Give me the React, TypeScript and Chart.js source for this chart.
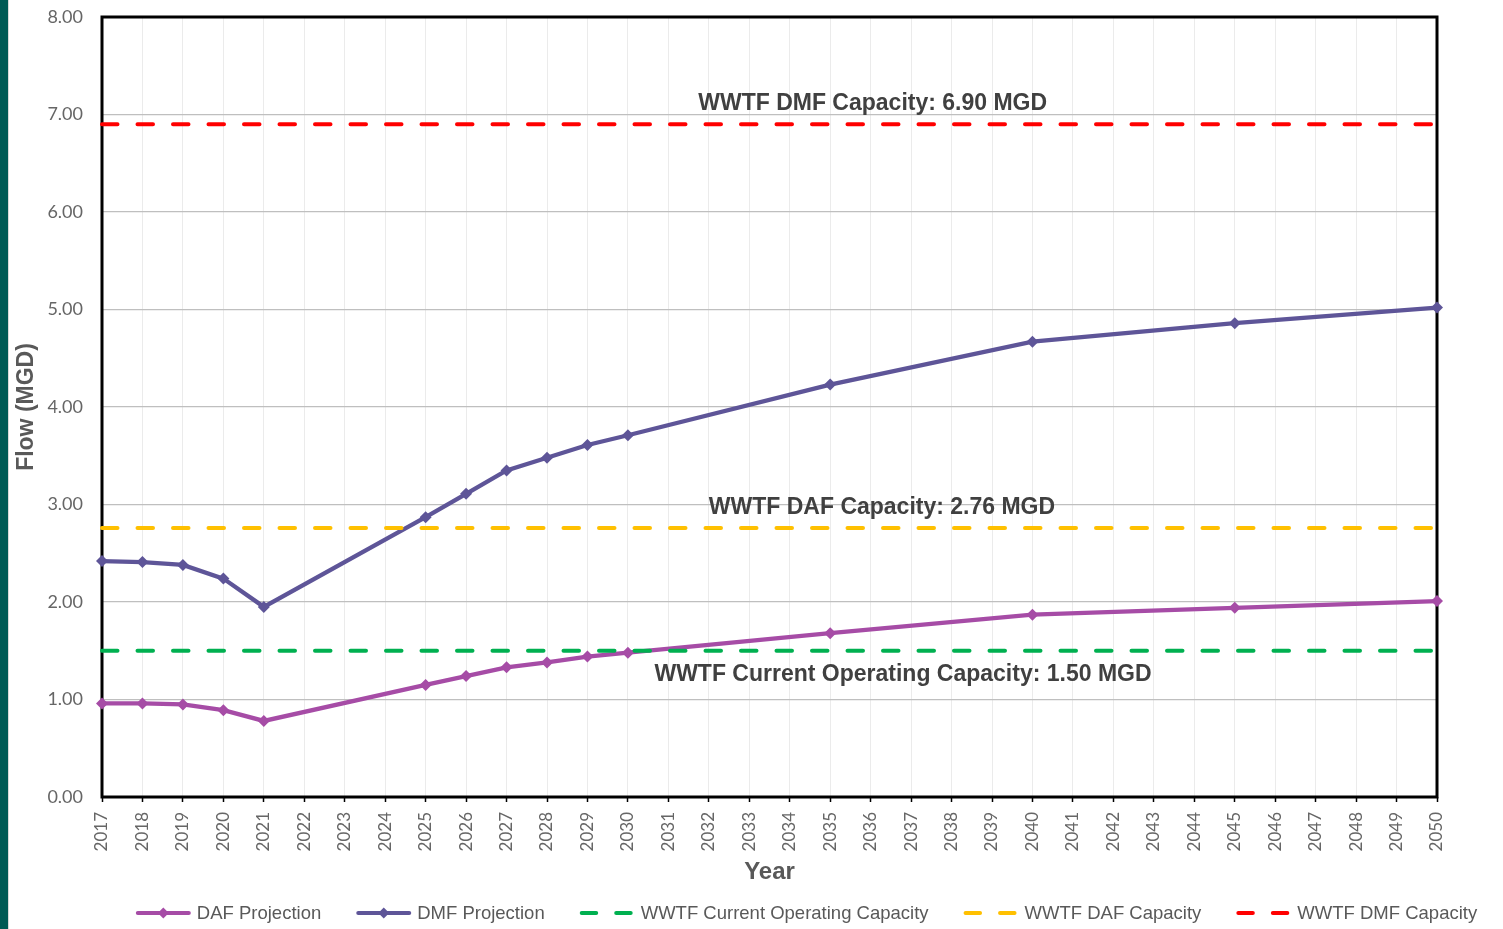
import { useEffect, useRef } from "react";
import { Chart, registerables } from "chart.js";

Chart.register(...registerables);

const YEARS = [
  "2017", "2018", "2019", "2020", "2021", "2022", "2023", "2024", "2025", "2026",
  "2027", "2028", "2029", "2030", "2031", "2032", "2033", "2034", "2035", "2036",
  "2037", "2038", "2039", "2040", "2041", "2042", "2043", "2044", "2045", "2046",
  "2047", "2048", "2049", "2050",
];

const DAF_PROJECTION = [
  0.96, 0.96, 0.95, 0.89, 0.78, null, null, null, 1.15, 1.24,
  1.33, 1.38, 1.44, 1.48, null, null, null, null, 1.68, null,
  null, null, null, 1.87, null, null, null, null, 1.94, null,
  null, null, null, 2.01,
];

const DMF_PROJECTION = [
  2.42, 2.41, 2.38, 2.24, 1.95, null, null, null, 2.87, 3.11,
  3.35, 3.48, 3.61, 3.71, null, null, null, null, 4.23, null,
  null, null, null, 4.67, null, null, null, null, 4.86, null,
  null, null, null, 5.02,
];

const CURRENT_CAPACITY = 1.5;
const DAF_CAPACITY = 2.76;
const DMF_CAPACITY = 6.9;

const Y_TICKS = [0, 1, 2, 3, 4, 5, 6, 7, 8];

const ANNOTATIONS = [
  { text: "WWTF DMF Capacity: 6.90 MGD", value: DMF_CAPACITY, xPos: 19.05, dy: -21 },
  { text: "WWTF DAF Capacity: 2.76 MGD", value: DAF_CAPACITY, xPos: 19.28, dy: -20 },
  { text: "WWTF Current Operating Capacity: 1.50 MGD", value: CURRENT_CAPACITY, xPos: 19.8, dy: 24 },
];

const COLORS = {
  daf: "#A64CA6",
  dmf: "#5E5598",
  current: "#00B050",
  dafCap: "#FFC000",
  dmfCap: "#FF0000",
};

const flat = (v: number) => [
  { x: YEARS[0], y: v },
  { x: YEARS[YEARS.length - 1], y: v },
];

const zeroPad = (s: any) => {
  s.paddingTop = 0;
  s.paddingBottom = 0;
  s.paddingLeft = 0;
  s.paddingRight = 0;
};

const frameAndLabels = {
  id: "frameAndLabels",
  beforeDatasetsDraw(chart: any) {
    const { ctx, chartArea: a } = chart;
    ctx.save();
    ctx.strokeStyle = "#000";
    ctx.lineWidth = 3;
    ctx.strokeRect(a.left, a.top, a.right - a.left, a.bottom - a.top);
    ctx.restore();
  },
  afterDatasetsDraw(chart: any) {
    const { ctx } = chart;
    const xs = chart.scales.x;
    const ys = chart.scales.y;
    ctx.save();
    ctx.font = 'bold 23px "Liberation Sans", Arial, sans-serif';
    ctx.fillStyle = "#404040";
    ctx.textAlign = "center";
    ctx.textBaseline = "middle";
    for (const an of ANNOTATIONS) {
      ctx.fillText(an.text, xs.getPixelForValue(an.xPos), ys.getPixelForValue(an.value) + an.dy);
    }
    ctx.restore();
  },
  afterDraw(chart: any) {
    const { ctx } = chart;
    ctx.save();
    ctx.font = '18.5px "Liberation Sans", Arial, sans-serif';
    const sampleW = 55;
    const textGap = 6;
    const itemGap = 35;
    const items = chart.data.datasets.map((ds: any) => ({
      label: ds.label,
      color: ds.borderColor,
      dashed: !!ds.borderDash,
      w: ctx.measureText(ds.label).width,
    }));
    let total = 0;
    items.forEach((it: any) => (total += sampleW + textGap + it.w + itemGap));
    total -= itemGap;
    let x = chart.width / 2 + 55 - total / 2;
    const y = 913;
    for (const it of items) {
      ctx.strokeStyle = it.color;
      ctx.fillStyle = it.color;
      ctx.lineWidth = 4;
      if (it.dashed) {
        ctx.lineCap = "round";
        ctx.setLineDash([14.5, 20]);
        ctx.beginPath();
        ctx.moveTo(x + 2, y);
        ctx.lineTo(x + sampleW - 4, y);
        ctx.stroke();
        ctx.setLineDash([]);
      } else {
        ctx.lineCap = "round";
        ctx.beginPath();
        ctx.moveTo(x + 2, y);
        ctx.lineTo(x + sampleW - 2, y);
        ctx.stroke();
        const cx = x + sampleW / 2;
        ctx.beginPath();
        ctx.moveTo(cx, y - 5.5);
        ctx.lineTo(cx + 5.5, y);
        ctx.lineTo(cx, y + 5.5);
        ctx.lineTo(cx - 5.5, y);
        ctx.closePath();
        ctx.fill();
      }
      ctx.fillStyle = "#595959";
      ctx.textAlign = "left";
      ctx.textBaseline = "middle";
      ctx.fillText(it.label, x + sampleW + textGap, y + 1);
      x += sampleW + textGap + it.w + itemGap;
    }
    ctx.restore();
  },
};

export default function App() {
  const ref = useRef<HTMLCanvasElement | null>(null);

  useEffect(() => {
    if (!ref.current) return;
    const projection = (label: string, data: (number | null)[], color: string) => ({
      label,
      data,
      borderColor: color,
      backgroundColor: color,
      borderWidth: 4.3,
      pointStyle: "rectRot",
      pointRadius: 6,
      pointBorderWidth: 0,
      pointBackgroundColor: color,
      spanGaps: true,
      tension: 0,
      order: 2,
    });
    const capacity = (label: string, v: number, color: string) => ({
      label,
      data: flat(v),
      borderColor: color,
      backgroundColor: color,
      borderWidth: 4,
      borderDash: [15.5, 20],
      borderCapStyle: "round",
      pointRadius: 0,
      order: 1,
    });
    const chart = new Chart(ref.current, {
      type: "line",
      data: {
        labels: YEARS,
        datasets: [
          projection("DAF Projection", DAF_PROJECTION, COLORS.daf),
          projection("DMF Projection", DMF_PROJECTION, COLORS.dmf),
          capacity("WWTF Current Operating Capacity", CURRENT_CAPACITY, COLORS.current),
          capacity("WWTF DAF Capacity", DAF_CAPACITY, COLORS.dafCap),
          capacity("WWTF DMF Capacity", DMF_CAPACITY, COLORS.dmfCap),
        ] as any,
      },
      options: {
        responsive: false,
        animation: false,
        layout: { padding: { left: 0, right: 66, top: 17, bottom: 35 } },
        plugins: {
          legend: { display: false },
          tooltip: { enabled: false },
        },
        scales: {
          x: {
            type: "category",
            offset: false,
            grid: {
              color: "#EBEBEB",
              lineWidth: 1,
              drawTicks: true,
              tickLength: 5,
              tickColor: "#000",
              tickWidth: 1.5,
            },
            border: { display: false },
            ticks: {
              autoSkip: false,
              maxRotation: 90,
              minRotation: 90,
              padding: 10,
              color: "#666666",
              font: { family: "Lato, 'Liberation Sans', sans-serif", size: 17 },
            },
            title: {
              display: true,
              text: "Year",
              color: "#595959",
              font: { family: "'Liberation Sans', Arial, sans-serif", size: 24, weight: "bold" },
              padding: { top: 0, bottom: 7 },
            },
            afterFit: (s: any) => {
              s.height = 97;
              zeroPad(s);
            },
          },
          y: {
            min: 0,
            max: 8,
            afterBuildTicks: (s: any) => {
              s.ticks = Y_TICKS.map((v) => ({ value: v }));
            },
            grid: { color: "#BFBFBF", lineWidth: 1.3, drawTicks: false },
            border: { display: false },
            ticks: {
              padding: 19,
              color: "#666666",
              font: { family: "Lato, 'Liberation Sans', sans-serif", size: 18 },
              callback: (v: any) => Number(v).toFixed(2),
            },
            title: {
              display: true,
              text: "Flow (MGD)",
              color: "#595959",
              font: { family: "'Liberation Sans', Arial, sans-serif", size: 23, weight: "bold" },
              padding: { top: 13, bottom: 0 },
            },
            afterFit: (s: any) => {
              s.width = 102;
              zeroPad(s);
            },
          },
        },
      },
      plugins: [frameAndLabels],
    } as any);
    return () => chart.destroy();
  }, []);

  return (
    <div
      style={{
        position: "fixed",
        left: 0,
        top: 0,
        width: 1503,
        height: 929,
        background: "#fff",
        overflow: "hidden",
      }}
    >
      <canvas ref={ref} width={1503} height={929} style={{ position: "absolute", left: 0, top: 0 }} />
      <div
        style={{
          position: "absolute",
          left: 0,
          top: 0,
          width: 8,
          height: 929,
          background: "#005A55",
          borderRight: "1px solid #D9D9D9",
        }}
      />
    </div>
  );
}
